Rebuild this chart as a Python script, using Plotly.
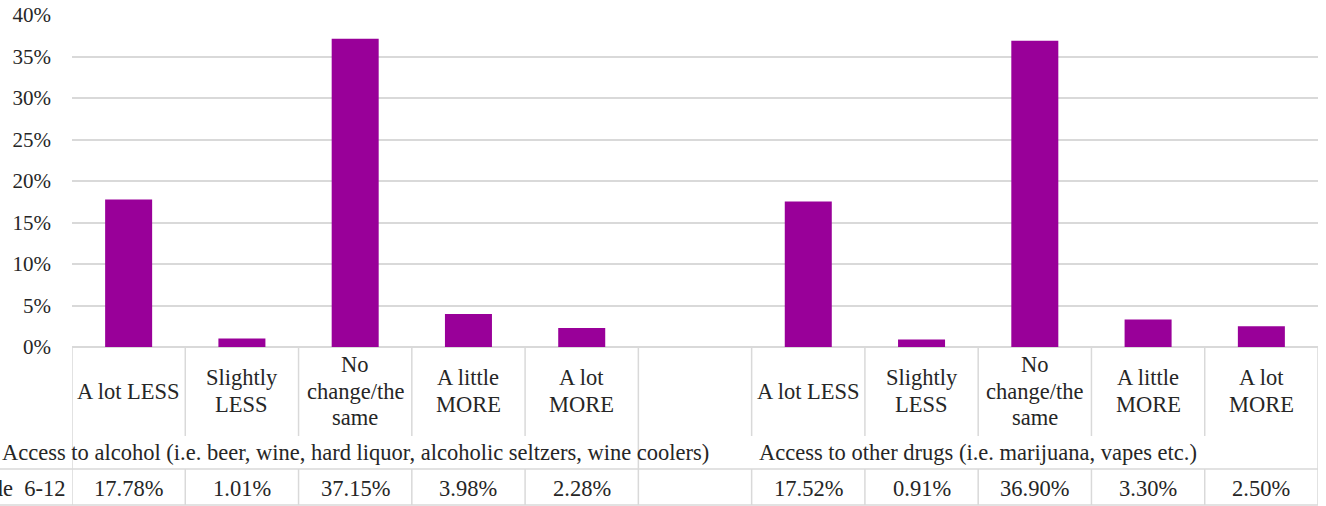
import plotly.graph_objects as go

categories = ["A lot LESS", "Slightly<br>LESS", "No<br>change/the<br>same", "A little<br>MORE", "A lot<br>MORE",
              "",
              "A lot LESS", "Slightly<br>LESS", "No<br>change/the<br>same", "A little<br>MORE", "A lot<br>MORE"]
values = [17.78, 1.01, 37.15, 3.98, 2.28, None, 17.52, 0.91, 36.90, 3.30, 2.50]
value_labels = ["17.78%", "1.01%", "37.15%", "3.98%", "2.28%", "", "17.52%", "0.91%", "36.90%", "3.30%", "2.50%"]
groups = ["Access to alcohol (i.e. beer, wine, hard liquor, alcoholic seltzers, wine coolers)",
          "Access to other drugs (i.e. marijuana, vapes etc.)"]
group_spans = [(0, 4), (5, 10)]
series_name = "Grade&nbsp; 6-12"
y_ticks = [0, 5, 10, 15, 20, 25, 30, 35, 40]

W, H = 1326, 506
L, R, T, B = 72, 8, 15, 159
PH = H - T - B
FONT = "serif"
FS_TICK = 21
FS = 22.5
LINE_H = 26.8
GRID = "#d9d9d9"
BAR = "#990099"
TXT = "#262626"


def py(px):
    return (H - B - px) / PH


def pxx(px):
    return (px - L) / (W - L - R)


xs = list(range(len(categories)))
fig = go.Figure(go.Bar(x=xs, y=values, marker_color=BAR, marker_line_width=0, hoverinfo="skip"))

shapes = []
annotations = []
n = len(categories)
for k in range(n + 1):
    xv = k - 0.5
    full = k in (0, n) or k == group_spans[1][0]
    if full:
        shapes.append(dict(type="line", xref="x", yref="paper", x0=xv, x1=xv, y0=py(347), y1=py(505),
                           line=dict(color=GRID, width=1.5)))
    else:
        shapes.append(dict(type="line", xref="x", yref="paper", x0=xv, x1=xv, y0=py(347), y1=py(436),
                           line=dict(color=GRID, width=1.5)))
        shapes.append(dict(type="line", xref="x", yref="paper", x0=xv, x1=xv, y0=py(469), y1=py(505),
                           line=dict(color=GRID, width=1.5)))
for yy in (469, 505):
    shapes.append(dict(type="line", xref="paper", yref="paper", x0=pxx(0), x1=1, y0=py(yy), y1=py(yy),
                       line=dict(color=GRID, width=1.5)))

font = dict(family=FONT, size=FS, color=TXT)
for k, c in enumerate(categories):
    if c:
        lines = c.split("<br>")
        for i, ln in enumerate(lines):
            yc = 391 + (i - (len(lines) - 1) / 2) * LINE_H
            annotations.append(dict(x=k, y=py(yc), xref="x", yref="paper", text=ln, showarrow=False,
                                    xanchor="center", yanchor="middle", font=font))
    if value_labels[k]:
        annotations.append(dict(x=k, y=py(488), xref="x", yref="paper", text=value_labels[k], showarrow=False,
                                xanchor="center", yanchor="middle", font=font))
for g, (a, b) in zip(groups, group_spans):
    annotations.append(dict(x=(a + b) / 2, y=py(452), xref="x", yref="paper", text=g, showarrow=False,
                            xanchor="center", yanchor="middle", font=font))
annotations.append(dict(x=-0.5, y=py(488), xref="x", yref="paper", text=series_name, showarrow=False,
                        xanchor="right", yanchor="middle", xshift=-5, font=font))

fig.update_layout(
    width=W, height=H,
    margin=dict(l=L, r=R, t=T, b=B, autoexpand=False),
    paper_bgcolor="white", plot_bgcolor="white",
    showlegend=False,
    bargap=0.585,
    shapes=shapes,
    annotations=annotations,
    font=font,
)
fig.update_xaxes(range=[-0.5, n - 0.5], showticklabels=False, showgrid=False, zeroline=False,
                 showline=False, ticks="", automargin=False)
fig.update_yaxes(range=[0, 40], tickvals=y_ticks, ticktext=[f"{v}%" for v in y_ticks],
                 showgrid=True, gridcolor=GRID, gridwidth=1.5, zeroline=True, zerolinecolor=GRID,
                 zerolinewidth=1.5, showline=False, ticks="", ticklabelstandoff=20, automargin=False,
                 tickfont=dict(family=FONT, size=FS_TICK, color=TXT))

fig.write_html("out.html", config={"displayModeBar": False},
               post_script="document.body.style.margin='0';document.body.style.padding='0';")
